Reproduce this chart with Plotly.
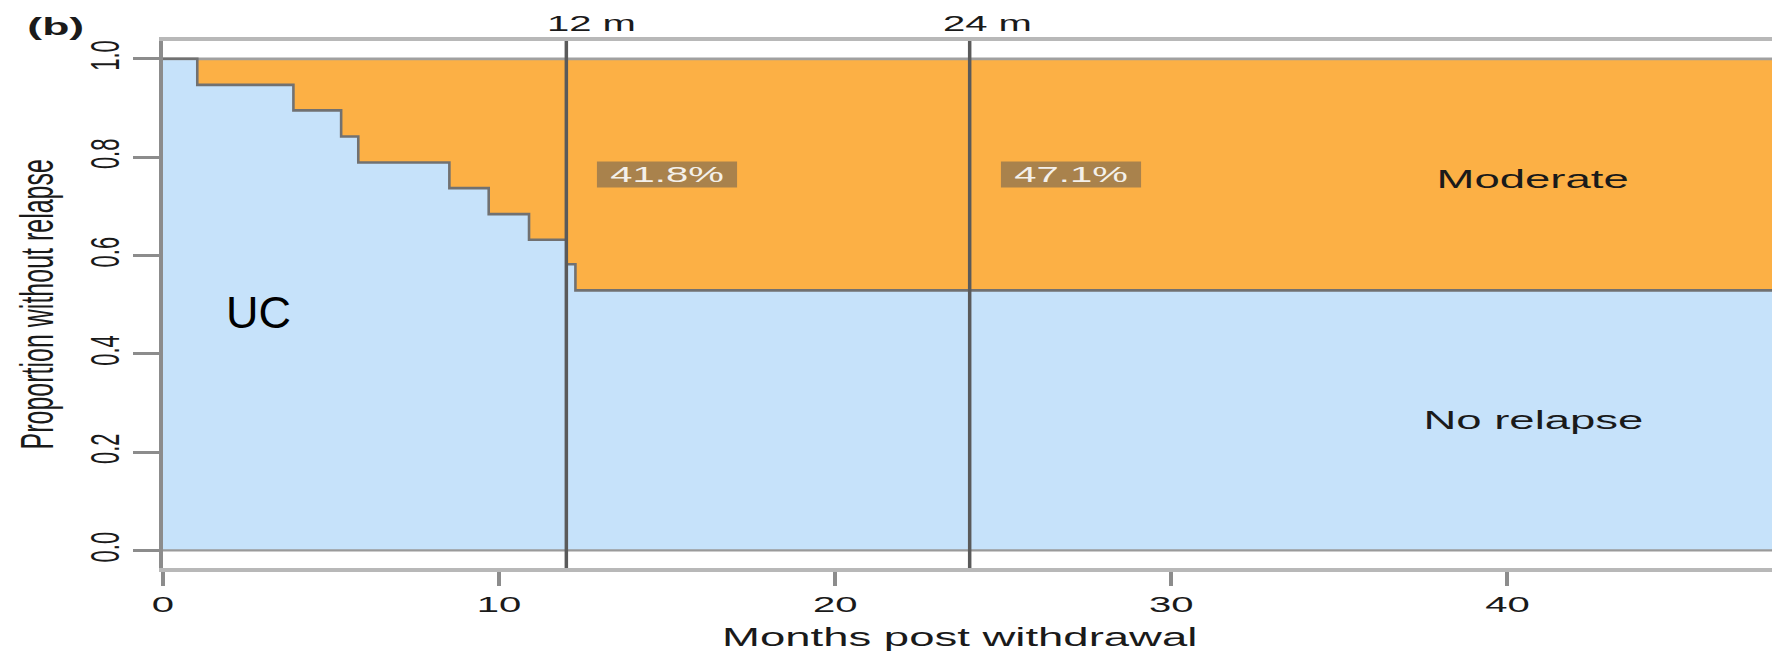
import plotly.graph_objects as go

# Kaplan-Meier estimate: proportion of UC patients without relapse
months = [0, 1.02, 3.88, 5.30, 5.81, 8.52, 9.69, 10.89, 12.0, 12.27, 50.0]
surv = [1.0, 0.947, 0.895, 0.842, 0.789, 0.737, 0.684, 0.632, 0.582, 0.529, 0.529]

milestones = [12, 24]
milestone_labels = ["12 m", "24 m"]
x_ticks = [0, 10, 20, 30, 40]
y_ticks = [0.0, 0.2, 0.4, 0.6, 0.8, 1.0]
y_ticktext = ["0.0", "0.2", "0.4", "0.6", "0.8", "1.0"]
region_labels = ["Moderate", "No relapse"]
panel_label = "(b)"
group_label = "UC"

FONT = "Liberation Sans, Arial, sans-serif"
BLUE = "#c6e2fa"
ORANGE = "#fcb045"
TEXT = "#1a1a1a"
STRETCH = 1.82  # horizontal text aspect of the original graphics device


def surv_at(t):
    """Step-function value of the survival curve at time t."""
    val = surv[0]
    for m, s in zip(months, surv):
        if m <= t:
            val = s
    return val


final = surv[-1]
mid_relapse = (1.0 + final) / 2
mid_free = final / 2
span = [months[0], months[-1]]

fig = go.Figure()

# no-relapse area under the step curve
fig.add_trace(go.Scatter(
    x=months, y=surv, mode="lines", line=dict(width=0, shape="hv"),
    fill="tozeroy", fillcolor=BLUE, hoverinfo="skip"))
# moderate-relapse area between the curve and 1
fig.add_trace(go.Scatter(
    x=span, y=[surv[0], surv[0]], mode="lines",
    line=dict(width=2.7, color="#a0a0a0"),
    fill="tonexty", fillcolor=ORANGE, hoverinfo="skip"))
# the step curve itself
fig.add_trace(go.Scatter(
    x=months, y=surv, mode="lines",
    line=dict(width=2.6, color="#717171", shape="hv"), hoverinfo="skip"))
# baseline of the no-relapse area
fig.add_trace(go.Scatter(
    x=span, y=[y_ticks[0], y_ticks[0]], mode="lines",
    line=dict(width=2.2, color="#9a9a9a"), hoverinfo="skip"))

# milestone verticals
for m in milestones:
    fig.add_shape(type="line", x0=m, x1=m, xref="x", y0=0, y1=1, yref="paper",
                  line=dict(color="#5a5a5a", width=3.5), layer="above")

annotations = []
label_offsets_px = [25, 18]
for m, lab, dx in zip(milestones, milestone_labels, label_offsets_px):
    annotations.append(dict(
        x=m, xref="x", y=1, yref="paper", xanchor="center", yanchor="middle",
        yshift=17.7, xshift=dx, text=lab, showarrow=False,
        font=dict(family=FONT, size=22, color=TEXT)))
    pct = (1.0 - surv_at(m)) * 100
    annotations.append(dict(
        x=m + 3, xref="x", y=mid_relapse, yref="y", text=f"{pct:.1f}%",
        showarrow=False, bgcolor="#a9824c", width=76, height=25, borderpad=0,
        font=dict(family=FONT, size=22, color="#f4f0ea")))

annotations += [
    dict(x=40.77, y=mid_relapse, xref="x", yref="y", yshift=-4,
         text=region_labels[0], showarrow=False,
         font=dict(family=FONT, size=25, color=TEXT)),
    dict(x=40.77, y=mid_free, xref="x", yref="y",
         text=region_labels[1], showarrow=False,
         font=dict(family=FONT, size=25, color=TEXT)),
    dict(x=2.84, y=0.484, xref="x", yref="y", text=group_label,
         showarrow=False, font=dict(family=FONT, size=45, color="#000000")),
    dict(x=0, xref="paper", xanchor="center", xshift=-107.5,
         y=1, yref="paper", yanchor="middle", yshift=14.6,
         text=f"<b>{panel_label}</b>", showarrow=False,
         font=dict(family=FONT, size=24.5, color=TEXT)),
    dict(x=0.5, xref="paper", xanchor="center", xshift=-8,
         y=0, yref="paper", yanchor="middle", yshift=-69,
         text="Months post withdrawal", showarrow=False,
         font=dict(family=FONT, size=25, color=TEXT)),
    dict(x=0, xref="paper", xanchor="center", xshift=-127,
         y=0.5, yref="paper", yanchor="middle",
         textangle=-90, text="Proportion without relapse", showarrow=False,
         font=dict(family=FONT, size=25, color=TEXT)),
]

fig.update_layout(
    width=1772, height=653,
    margin=dict(l=163, r=0, t=41, b=85),
    paper_bgcolor="white", plot_bgcolor="white",
    showlegend=False,
    annotations=annotations,
    xaxis=dict(
        range=[0, 47.87], tickvals=x_ticks, ticks="outside", ticklen=14,
        tickwidth=4, tickcolor="#8c8c8c", showline=True, linecolor="#b8b8b8",
        linewidth=4, mirror=True, showgrid=False, zeroline=False,
        tickfont=dict(family=FONT, size=22, color=TEXT), layer="above traces"),
    yaxis=dict(
        range=[-0.0358, 1.0362], tickvals=y_ticks, ticktext=y_ticktext,
        tickangle=-90, ticks="outside", ticklen=26, tickwidth=2.5,
        tickcolor="#8c8c8c", showline=True, linecolor="#8c8c8c", linewidth=4,
        showgrid=False, zeroline=False, ticklabelstandoff=11,
        tickfont=dict(family=FONT, size=22, color=TEXT), layer="above traces"),
)

# Widen the lettering horizontally about each label's own centre, as the
# original device rendered it; the group label keeps its natural width.
post_script = """
var gd = document.getElementById('{plot_id}');
var SX = %f;
var keep = %s;
function stretch(el) {
  if (!el) return;
  var svg = el.ownerSVGElement;
  var r = el.getBoundingClientRect();
  if (!r.width) return;
  var sr = svg.getBoundingClientRect();
  var cx = r.left + r.width / 2 - sr.left;
  var S = svg.createSVGMatrix().translate(cx, 0).scaleNonUniform(SX, 1).translate(-cx, 0);
  var P = el.parentNode.getCTM();
  var C = el.getCTM();
  var T = P.inverse().multiply(S).multiply(C);
  el.transform.baseVal.initialize(el.transform.baseVal.createSVGTransformFromMatrix(T));
}
gd.querySelectorAll('g.annotation').forEach(function (g) {
  var t = g.querySelector('text');
  if (t && keep.indexOf(t.textContent) < 0) stretch(g.querySelector('g.annotation-text-g'));
});
gd.querySelectorAll('g.xtick text, g.ytick text').forEach(stretch);
""" % (STRETCH, '["%s"]' % group_label)

fig.write_html("out.html", post_script=post_script)
